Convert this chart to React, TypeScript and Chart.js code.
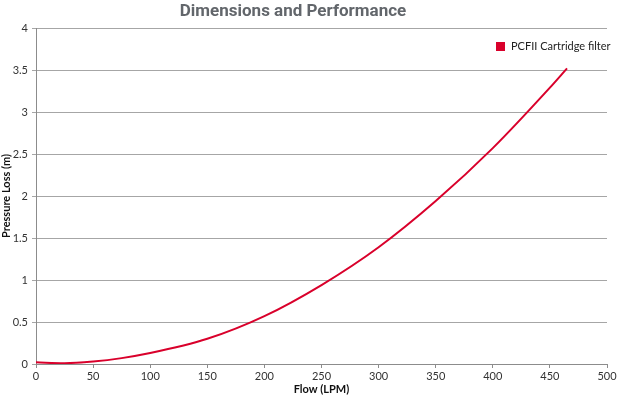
import React, { useEffect, useRef } from "react";
import { Chart, registerables } from "chart.js";

Chart.register(...registerables);

const flow = [0, 25, 50, 75, 100, 150, 200, 250, 300, 350, 400, 450, 465];
const pressureLoss = [0.02, 0.01, 0.03, 0.07, 0.13, 0.3, 0.57, 0.94, 1.39, 1.94, 2.57, 3.29, 3.52];
const seriesName = "PCFII Cartridge filter";
const chartTitle = "Dimensions and Performance";
const xTitle = "Flow (LPM)";
const yTitle = "Pressure Loss (m)";

const RED = "#d9002b";

export default function App() {
  const ref = useRef<HTMLCanvasElement | null>(null);
  useEffect(() => {
    document.body.style.margin = "0";
    const canvas = ref.current!;
    const overlay = {
      id: "overlay",
      afterDraw(chart: any) {
        const ctx = chart.ctx;
        ctx.save();
        ctx.fillStyle = "#62666b";
        ctx.font = "bold 17px Roboto";
        ctx.textAlign = "center";
        ctx.textBaseline = "middle";
        ctx.fillText(chartTitle, 293, 12);
        ctx.fillStyle = RED;
        ctx.fillRect(496, 42, 9, 9);
        ctx.fillStyle = "#222";
        ctx.font = "11px Lato";
        ctx.textAlign = "left";
        ctx.fillText(seriesName, 511, 46.5);
        ctx.restore();
      },
    };
    const chart = new Chart(canvas, {
      type: "line",
      data: {
        datasets: [
          {
            label: seriesName,
            data: flow.map((x, i) => ({ x, y: pressureLoss[i] })),
            borderColor: RED,
            backgroundColor: RED,
            borderWidth: 2,
            pointRadius: 0,
            cubicInterpolationMode: "monotone",
            fill: false,
          },
        ],
      },
      options: {
        animation: false,
        responsive: false,
        maintainAspectRatio: false,
        layout: { padding: { top: 28, right: 13, left: 0, bottom: 0 } },
        plugins: {
          legend: { display: false },
          title: { display: false },
          tooltip: { enabled: false },
        },
        scales: {
          x: {
            type: "linear",
            min: 0,
            max: 500,
            ticks: {
              stepSize: 50,
              color: "#333",
              font: { family: "Lato", size: 11 },
              padding: 2,
              maxRotation: 0,
              callback: (v: any) => String(v),
            },
            grid: {
              drawOnChartArea: false,
              drawTicks: true,
              tickLength: 4,
              color: "#8c8c8c",
            },
            border: { color: "#8c8c8c", width: 1 },
            title: {
              display: true,
              text: xTitle,
              color: "#111",
              font: { family: "Lato", size: 11, weight: "bold" },
              padding: { top: 2, bottom: 0 },
            },
            afterFit(scale: any) {
              scale.height = 32;
            },
          },
          y: {
            type: "linear",
            min: 0,
            max: 4,
            ticks: {
              stepSize: 0.5,
              color: "#333",
              font: { family: "Lato", size: 11 },
              padding: 4,
              callback: (v: any) => String(Number(v)),
            },
            grid: {
              drawOnChartArea: true,
              drawTicks: true,
              tickLength: 4,
              color: "#a6a6a6",
            },
            border: { color: "#8c8c8c", width: 1 },
            title: {
              display: true,
              text: yTitle,
              color: "#111",
              font: { family: "Lato", size: 11, weight: "bold" },
              padding: { top: 0, bottom: 0 },
            },
            afterFit(scale: any) {
              scale.width = 36;
            },
          },
        },
      },
      plugins: [overlay],
    });
    return () => chart.destroy();
  }, []);
  return (
    <div style={{ position: "absolute", left: 0, top: 0, width: 620, height: 396 }}>
      <canvas ref={ref} width={620} height={396} style={{ width: 620, height: 396 }} />
    </div>
  );
}
